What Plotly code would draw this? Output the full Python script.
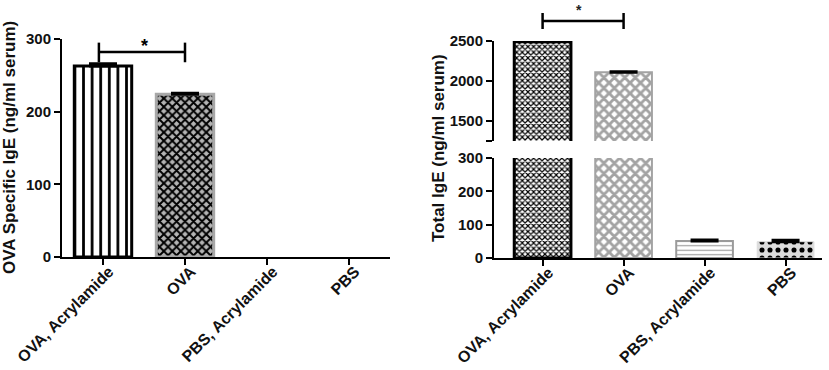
import plotly.graph_objects as go

# ---------------- data ----------------
categories = ["OVA, Acrylamide", "OVA", "PBS, Acrylamide", "PBS"]

# Left panel: OVA specific IgE (ng/ml serum); PBS groups not detected
ova_specific_ige = [263, 224, None, None]
ova_specific_err = [3, 1.5, None, None]

# Right panel: Total IgE (ng/ml serum)
total_ige = [2490, 2110, 51, 49]
total_ige_err = [0, 5, 3, 4]

left_ticks = [0, 100, 200, 300]
right_low_ticks = [0, 100, 200, 300]
right_high_ticks = [1250, 1500, 2000, 2500]
right_high_ticktext = ["", "1500", "2000", "2500"]

# ---------------- style ----------------
FONT = "Arial, Liberation Sans, sans-serif"
BLACK = "#000000"

left_pattern = dict(
    shape=["|", "x", "", ""],
    fgcolor=[BLACK, BLACK, BLACK, BLACK],
    bgcolor=["white", "#b4b4b4", "white", "white"],
    size=[8.6, 6, 6, 6],
    solidity=[0.32, 0.55, 0.3, 0.3],
    fillmode="replace",
)
left_line = dict(color=[BLACK, "#a8a8a8", BLACK, BLACK], width=[3, 3, 0, 0])

right_pattern = dict(
    shape=["x", "x", "-", "."],
    fgcolor=[BLACK, "#a3a3a3", "#9a9a9a", BLACK],
    bgcolor=["white", "white", "white", "#dcdcdc"],
    size=[4, 7.4, 4.5, 8],
    solidity=[0.5, 0.62, 0.25, 0.32],
    fillmode="replace",
)
right_line = dict(color=[BLACK, "#a3a3a3", "#9a9a9a", "#dcdcdc"], width=[3, 2, 2, 1])

fig = go.Figure()

fig.add_trace(go.Bar(
    x=categories, y=ova_specific_ige, xaxis="x", yaxis="y", width=0.7,
    marker=dict(color="white", pattern=left_pattern, line=left_line),
    error_y=dict(type="data", symmetric=False, array=ova_specific_err,
                 arrayminus=[0, 0, None, None], color=BLACK, thickness=3, width=14),
    showlegend=False,
))

for yax in ["y2", "y3"]:
    fig.add_trace(go.Bar(
        x=categories, y=total_ige, xaxis="x2", yaxis=yax, width=0.7,
        marker=dict(color="white", pattern=right_pattern, line=right_line),
        error_y=dict(type="data", symmetric=False, array=total_ige_err,
                     arrayminus=[0, 0, 0, 0], color=BLACK, thickness=3, width=14),
        showlegend=False,
    ))

tickfont = dict(family=FONT, size=15, color="#111", weight="bold")
catfont = dict(family=FONT, size=16, color="#111", weight="bold")
axis_common = dict(showline=True, linecolor=BLACK, linewidth=2, ticks="outside",
                   ticklen=6, tickwidth=2, tickcolor=BLACK, showgrid=False,
                   zeroline=False, fixedrange=True, automargin=False)

W, H = 829, 370
fig.update_layout(
    width=W, height=H, autosize=False,
    margin=dict(l=0, r=0, t=0, b=0, autoexpand=False),
    plot_bgcolor="white", paper_bgcolor="white",
    bargap=0.3,
    xaxis=dict(domain=[62 / W, 390 / W], range=[-0.5, 3.5], anchor="y",
               tickangle=-45, tickfont=catfont, ticklabelstandoff=-9,
               ticklabelshift=6, **axis_common),
    yaxis=dict(domain=[1 - 257 / H, 1 - 39 / H], range=[0, 300], anchor="x",
               tickvals=left_ticks, tickfont=tickfont, **axis_common),
    xaxis2=dict(domain=[494 / W, 822 / W], range=[-0.6, 3.45], anchor="y2",
                tickangle=-45, tickfont=catfont, ticklabelstandoff=-9,
                ticklabelshift=6, **axis_common),
    yaxis2=dict(domain=[1 - 258 / H, 1 - 158 / H], range=[0, 300], anchor="x2",
                tickvals=right_low_ticks, tickfont=tickfont, **axis_common),
    yaxis3=dict(domain=[1 - 141 / H, 1 - 41 / H], range=[1250, 2500], anchor="x2",
                tickvals=right_high_ticks, ticktext=right_high_ticktext,
                tickfont=tickfont, **axis_common),
)

titlefont = dict(family=FONT, size=17, color="#111", weight="bold")
fig.add_annotation(text="OVA Specific IgE (ng/ml serum)", textangle=-90,
                   xref="paper", yref="paper", x=9 / W, y=1 - 148 / H,
                   showarrow=False, font=titlefont, xanchor="center", yanchor="middle")
fig.add_annotation(text="Total IgE (ng/ml serum)", textangle=-90,
                   xref="paper", yref="paper", x=438 / W, y=1 - 148 / H,
                   showarrow=False, font=titlefont, xanchor="center", yanchor="middle")

# significance bracket, left panel
br = dict(color=BLACK, width=2.5)
fig.add_shape(type="line", xref="x", yref="y", x0=-0.05, x1=1, y0=282, y1=282, line=br)
fig.add_shape(type="line", xref="x", yref="y", x0=-0.05, x1=-0.05, y0=268, y1=295, line=br)
fig.add_shape(type="line", xref="x", yref="y", x0=1, x1=1, y0=268, y1=295, line=br)
fig.add_annotation(text="*", xref="x", yref="y", x=0.5, y=291, showarrow=False,
                   font=dict(family=FONT, size=18, color=BLACK, weight="bold"),
                   yanchor="middle")

# significance bracket, right panel
fig.add_shape(type="line", xref="x2", yref="paper", x0=0, x1=1,
              y0=1 - 21 / H, y1=1 - 21 / H, line=br)
fig.add_shape(type="line", xref="x2", yref="paper", x0=0, x1=0,
              y0=1 - 29 / H, y1=1 - 13 / H, line=br)
fig.add_shape(type="line", xref="x2", yref="paper", x0=1, x1=1,
              y0=1 - 29 / H, y1=1 - 13 / H, line=br)
fig.add_annotation(text="*", xref="x2", yref="paper", x=0.45, y=1 - 10 / H,
                   showarrow=False, yanchor="middle",
                   font=dict(family=FONT, size=14, color="#222", weight="bold"))

fig.write_html("out.html", config={"displayModeBar": False},
               post_script="document.body.style.margin='0';document.body.style.overflow='hidden';")
